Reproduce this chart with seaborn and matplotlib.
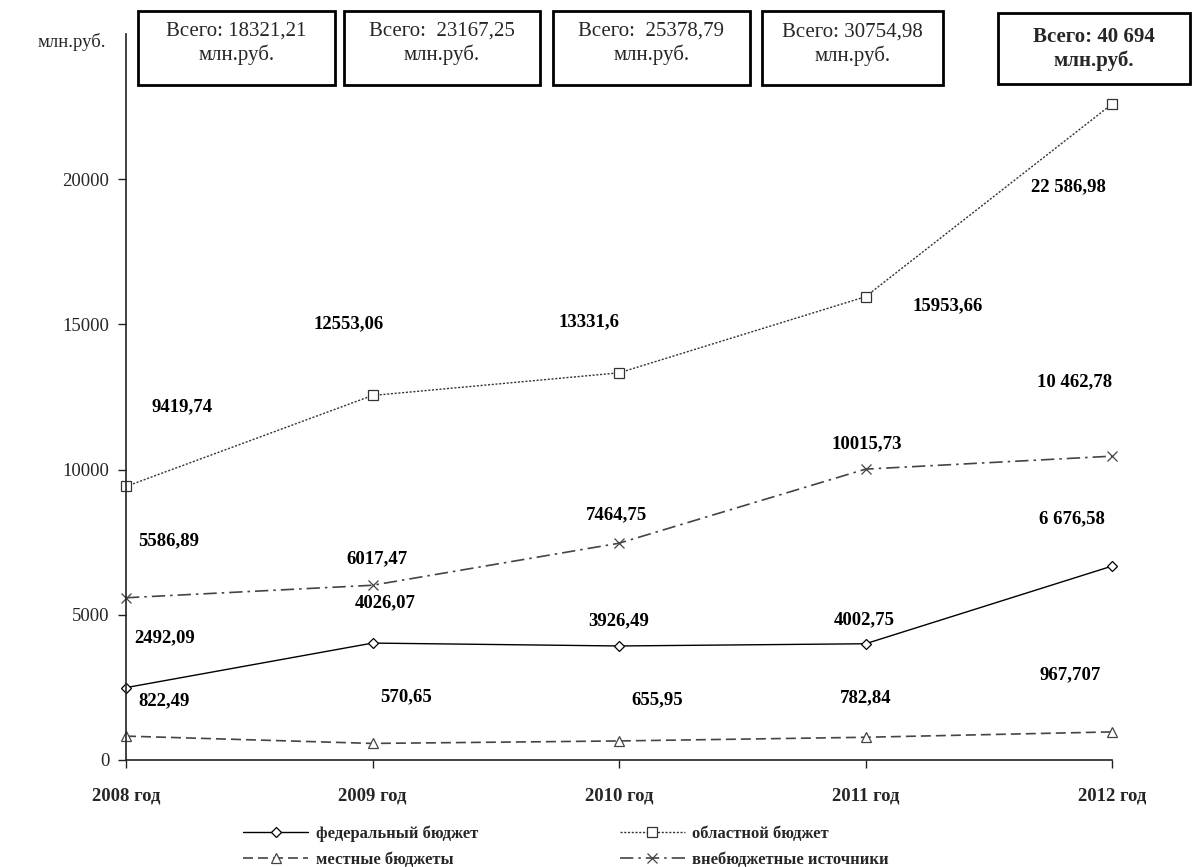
import matplotlib
matplotlib.use("Agg")
import matplotlib.pyplot as plt
import seaborn as sns
import pandas as pd
from matplotlib.patches import Rectangle

years = ["2008 год", "2009 год", "2010 год", "2011 год", "2012 год"]
federal = [2492.09, 4026.07, 3926.49, 4002.75, 6676.58]
regional = [9419.74, 12553.06, 13331.6, 15953.66, 22586.98]
local = [822.49, 570.65, 655.95, 782.84, 967.707]
extra = [5586.89, 6017.47, 7464.75, 10015.73, 10462.78]

federal_lbl = ["2492,09", "4026,07", "3926,49", "4002,75", "6 676,58"]
regional_lbl = ["9419,74", "12553,06", "13331,6", "15953,66", "22 586,98"]
local_lbl = ["822,49", "570,65", "655,95", "782,84", "967,707"]
extra_lbl = ["5586,89", "6017,47", "7464,75", "10015,73", "10 462,78"]

totals = ["Всего: 18321,21\nмлн.руб.", "Всего:  23167,25\nмлн.руб.",
          "Всего:  25378,79\nмлн.руб.", "Всего: 30754,98\nмлн.руб.",
          "Всего: 40 694\nмлн.руб."]

names = ["федеральный бюджет", "областной бюджет", "местные бюджеты", "внебюджетные источники"]
yticks = [0, 5000, 10000, 15000, 20000]

sns.set_theme(style="white")
plt.rcParams['font.family'] = ['Liberation Serif', 'DejaVu Serif']

fig = plt.figure(figsize=(11.92, 8.67), dpi=100)
ax = fig.add_axes([126/1192, 1-760/867, (1112-126)/1192, (760-34)/867])

xs = list(range(len(years)))
series = [
    (federal, federal_lbl, dict(color="black", linestyle="-", marker="D", markersize=5.5, lw=1.0),
     [(39, 50), (13, 40), (0, 25), (-1, 24), (-40, 47)]),
    (regional, regional_lbl, dict(color="#333333", linestyle=(0, (1.5, 1.2)), marker="s", markersize=6.5, lw=1.0),
     [(56, 80), (-24, 72), (-30, 51), (82, -9), (-44, -83)]),
    (local, local_lbl, dict(color="#444444", linestyle=(0, (6, 3)), marker="^", markersize=6.5, lw=1.2),
     [(38, 35), (34, 47), (38, 41), (0, 40), (-42, 57)]),
    (extra, extra_lbl, dict(color="#444444", linestyle=(0, (8, 3, 1.5, 3)), marker="x", markersize=7, lw=1.2),
     [(43, 57), (4, 27), (-3, 28), (1, 25), (-37, 74)]),
]

for (vals, lbls, st, offs), name in zip(series, names):
    df = pd.DataFrame({"x": xs, "y": vals})
    sns.lineplot(data=df, x="x", y="y", ax=ax, color=st["color"], linestyle=st["linestyle"],
                 marker=st["marker"], markersize=st["markersize"], markerfacecolor="white",
                 markeredgecolor=st["color"], markeredgewidth=0.9, lw=st["lw"], label=name,
                 clip_on=False)
    for x, v, t, o in zip(xs, vals, lbls, offs):
        ax.annotate(t, (x, v), xytext=o, textcoords="offset pixels", ha="center", va="center",
                    fontsize=13.5, fontweight="bold", color="black")

h, l = ax.get_legend_handles_labels()
ax.legend_.remove()
order = [0, 2, 1, 3]
leg = fig.legend([h[i] for i in order], [l[i] for i in order], ncol=2, frameon=False,
                 loc="center", bbox_to_anchor=(0.475, 0.0235), handlelength=3.9,
                 handletextpad=0.45, columnspacing=8.5, labelspacing=0.6,
                 borderpad=0.2,
                 prop={"family": "Liberation Serif", "weight": "bold", "size": 12})

ax.set_xlim(0, 4)
ax.set_ylim(0, 25000)
ax.set_yticks(yticks)
ax.set_yticklabels([str(v) for v in yticks], fontsize=13.5)
ax.set_xticks(xs)
ax.set_xticklabels(years, fontsize=13.5, fontweight="bold")
ax.set_xlabel("")
ax.set_ylabel("")
for s in ["top", "right"]:
    ax.spines[s].set_visible(False)
for s in ["left", "bottom"]:
    ax.spines[s].set_color("#222222")
    ax.spines[s].set_linewidth(1.2)
ax.tick_params(axis="y", direction="out", length=6, width=1, color="#222222", left=True, pad=6)
ax.tick_params(axis="x", direction="out", length=6, width=1, color="#222222", bottom=True, pad=14)
ax.grid(False)

fig.text(72/1192, 1-42/867, "млн.руб.", ha="center", va="center", fontsize=13.5)

boxes = [(138, 11, 335, 85), (344, 11, 540, 85), (553, 11, 750, 85), (762, 11, 943, 85), (998, 13, 1190, 84)]
text_y = [43, 43, 43, 44, 49]
for i, ((x0, y0, x1, y1), t, ty) in enumerate(zip(boxes, totals, text_y)):
    fig.patches.append(Rectangle((x0/1192, 1-y1/867), (x1-x0)/1192, (y1-y0)/867,
                                 transform=fig.transFigure, fill=False, ec="black", lw=2))
    bold = i == 4
    fig.text((x0+x1)/2/1192, 1-ty/867, t, ha="center", va="center",
             fontsize=15, linespacing=1.25,
             fontweight="bold" if bold else "normal")

fig.savefig("out.png", dpi=100)
